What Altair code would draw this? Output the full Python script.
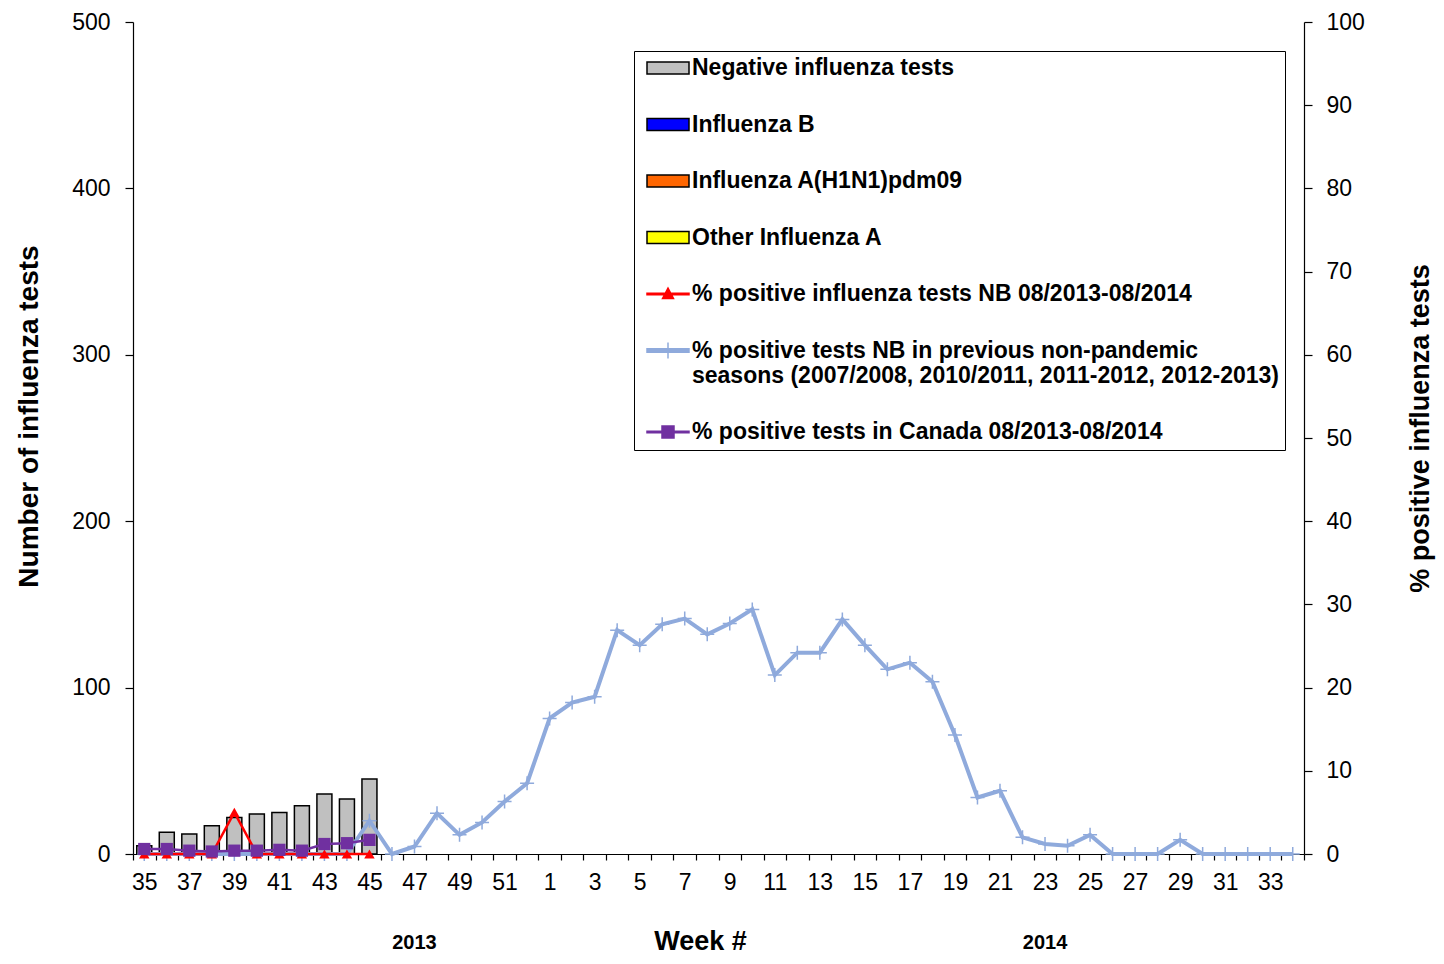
import altair as alt
import pandas as pd

# ---------------- data ----------------
weeks = [str(w) for w in list(range(35, 53)) + list(range(1, 35))]

season_weeks = [str(w) for w in range(35, 46)]
negative_tests = [5, 13, 12, 17, 22, 24, 25, 29, 36, 33, 45]
nb_pct = [0, 0, 0, 0, 5, 0, 0, 0, 0, 0, 0]
canada_pct = [0.6, 0.6, 0.4, 0.3, 0.4, 0.4, 0.5, 0.4, 1.2, 1.3, 1.7]

prev_pct = [
    0, 0, 0, 0, 0, 0, 0, 0, 0, 0,          # 35-44
    4.0, 0, 0.9, 4.9, 2.3, 3.8, 6.3, 8.5,  # 45-52
    16.3, 18.2, 18.9, 26.9, 25.1, 27.6, 28.3, 26.4, 27.7, 29.4,  # 1-10
    21.5, 24.2, 24.2, 28.2, 25.1, 22.2, 23.0, 20.7, 14.3, 6.8,   # 11-20
    7.6, 2.0, 1.2, 1.0, 2.3, 0, 0, 0, 1.7, 0,                    # 21-30
    0, 0, 0, 0,                                                  # 31-34
]

legend_labels = [
    "Negative influenza tests",
    "Influenza B",
    "Influenza A(H1N1)pdm09",
    "Other Influenza A",
    "% positive influenza tests NB 08/2013-08/2014",
    "% positive tests NB in previous non-pandemic seasons (2007/2008, 2010/2011, 2011-2012, 2012-2013)",
    "% positive tests  in Canada 08/2013-08/2014",
]
legend_colors = ["#C0C0C0", "#0000FF", "#FF6600", "#FFFF00", "#FF0000", "#8FAADC", "#7030A0"]
multi_line = ["% positive tests NB in previous non-pandemic",
              "seasons (2007/2008, 2010/2011, 2011-2012, 2012-2013)"]

year_labels = ["2013", "2014"]
year_weeks = ["47", "23"]

# ---------------- tables ----------------
bars_df = pd.DataFrame({"week": season_weeks, "tests": negative_tests})
nb_df = pd.DataFrame({"week": season_weeks, "pct": nb_pct})
ca_df = pd.DataFrame({"week": season_weeks, "pct": canada_pct})
prev_df = pd.DataFrame({"week": weeks, "pct": prev_pct})
year_df = pd.DataFrame({"week": year_weeks, "label": year_labels})
legend_df = pd.DataFrame({"series": legend_labels, "week": [None] * 7, "pct": [None] * 7})

W, H = 1171, 832
FONT = "Liberation Sans"

def xenc():
    return alt.X(
        "week:O", sort=weeks,
        scale=alt.Scale(domain=weeks, paddingInner=0, paddingOuter=0),
        axis=alt.Axis(
            title="Week #", labelAngle=0, tickBand="extent", tickSize=6,
            labelExpr="toNumber(datum.value) % 2 == 1 ? datum.value : ''",
            labelOverlap=False, labelFontSize=23, labelPadding=11,
            titleFontSize=27, titleFontWeight="bold",
            titleX=567, titleY=87, titleAlign="center", titleBaseline="middle",
        ),
    )

# legend symbol paths (unit box scaled by sqrt(size)/2)
RECT = "M-2.1,-0.6H2.1V0.6H-2.1Z"
RED = "M-2.1,-0.07H2.1V0.07H-2.1Z M-0.55,0.45L0,-0.6L0.55,0.45Z"
BLUE = "M-2.1,-0.17H2.1V0.17H-2.1Z M0,-0.8V0.8"
PURPLE = "M-2.1,-0.07H2.1V0.07H-2.1Z M-0.6,-0.6H0.6V0.6H-0.6Z"
shapes = [RECT, RECT, RECT, RECT, RED, BLUE, PURPLE]
strokes = ["black", "black", "black", "black", "#FF0000", "#8FAADC", "#7030A0"]
widths = [1.5, 1.5, 1.5, 1.5, 1, 1.3, 1]

def arr(items):
    return "[" + ",".join(f"'{i}'" for i in items) + "]"

legend = alt.Legend(
    orient="none", legendX=501, legendY=29, title=None, direction="vertical",
    strokeColor="black", fillColor="white", padding=5.5,
    symbolSize=400, symbolOffset=17, labelOffset=12.5, rowPadding=32.5,
    symbolOpacity=1,
    labelFont=FONT, labelFontSize=23, labelFontWeight="bold", labelColor="black",
    labelLimit=800,
    labelExpr=f"datum.value == '{legend_labels[5]}' ? {arr(multi_line)} : datum.label",
)

yright = alt.Y("pct:Q", scale=alt.Scale(domain=[0, 100], nice=False),
               axis=alt.Axis(title="% positive  influenza tests", orient="right",
                             values=list(range(0, 101, 10)), tickSize=8,
                             labelFontSize=23, labelPadding=14, titleAngle=270,
                             titleFontSize=27, titleFontWeight="bold", titlePadding=70,
                             titleY=406))

bars = alt.Chart(bars_df).mark_bar(size=15, color="#C0C0C0", stroke="black",
                                   strokeWidth=1.5, opacity=1).encode(
    x=xenc(),
    y=alt.Y("tests:Q", scale=alt.Scale(domain=[0, 500], nice=False),
            axis=alt.Axis(title="Number of influenza  tests", values=[0, 100, 200, 300, 400, 500],
                          tickSize=8, labelFontSize=23, labelPadding=15,
                          titleFontSize=28, titleFontWeight="bold", titlePadding=28,
                          titleY=394)),
)

years = alt.Chart(year_df).mark_text(font=FONT, fontSize=20, fontWeight="bold",
                                     color="black", baseline="middle").encode(
    x=xenc(), y=alt.value(H + 89), text="label:N")

legend_layer = alt.Chart(legend_df).mark_point(filled=True, size=400, opacity=1).encode(
    x=xenc(), y=yright,
    color=alt.Color("series:N", scale=alt.Scale(domain=legend_labels, range=legend_colors), legend=legend),
    shape=alt.Shape("series:N", scale=alt.Scale(domain=legend_labels, range=shapes), legend=legend),
    stroke=alt.Stroke("series:N", scale=alt.Scale(domain=legend_labels, range=strokes), legend=legend),
    strokeWidth=alt.StrokeWidth("series:N", scale=alt.Scale(domain=legend_labels, range=widths), legend=legend),
)

prev_line = alt.Chart(prev_df).mark_line(color="#8FAADC", strokeWidth=4).encode(x=xenc(), y=yright)
prev_pts = alt.Chart(prev_df).mark_point(shape="M-1,0H1M0,-1V1", size=196, filled=False,
                                         color="#8FAADC", strokeWidth=1.5, opacity=1).encode(x=xenc(), y=yright)
nb_line = alt.Chart(nb_df).mark_line(color="#FF0000", strokeWidth=2.5).encode(x=xenc(), y=yright)
nb_pts = alt.Chart(nb_df).mark_point(shape="triangle-up", size=110, filled=True,
                                     color="#FF0000", opacity=1).encode(x=xenc(), y=yright)
ca_line = alt.Chart(ca_df).mark_line(color="#7030A0", strokeWidth=2.5).encode(x=xenc(), y=yright)
ca_pts = alt.Chart(ca_df).mark_point(shape="square", size=150, filled=True,
                                     color="#7030A0", opacity=1).encode(x=xenc(), y=yright)

right = alt.layer(prev_line, prev_pts, nb_line, nb_pts, ca_line, ca_pts, legend_layer)

chart = alt.layer(bars, years, right).resolve_scale(y="independent").properties(
    width=W, height=H,
    autosize=alt.AutoSizeParams(type="none"),
    padding={"left": 125, "top": 14, "right": 132, "bottom": 102},
).configure_axis(
    grid=False, domainColor="black", tickColor="black", labelColor="black",
    titleColor="black", labelFont=FONT, titleFont=FONT, domainWidth=1.2, tickWidth=1.2,
).configure_view(stroke=None)

chart.save("out.html", embed_options={"renderer": "svg", "actions": False})
